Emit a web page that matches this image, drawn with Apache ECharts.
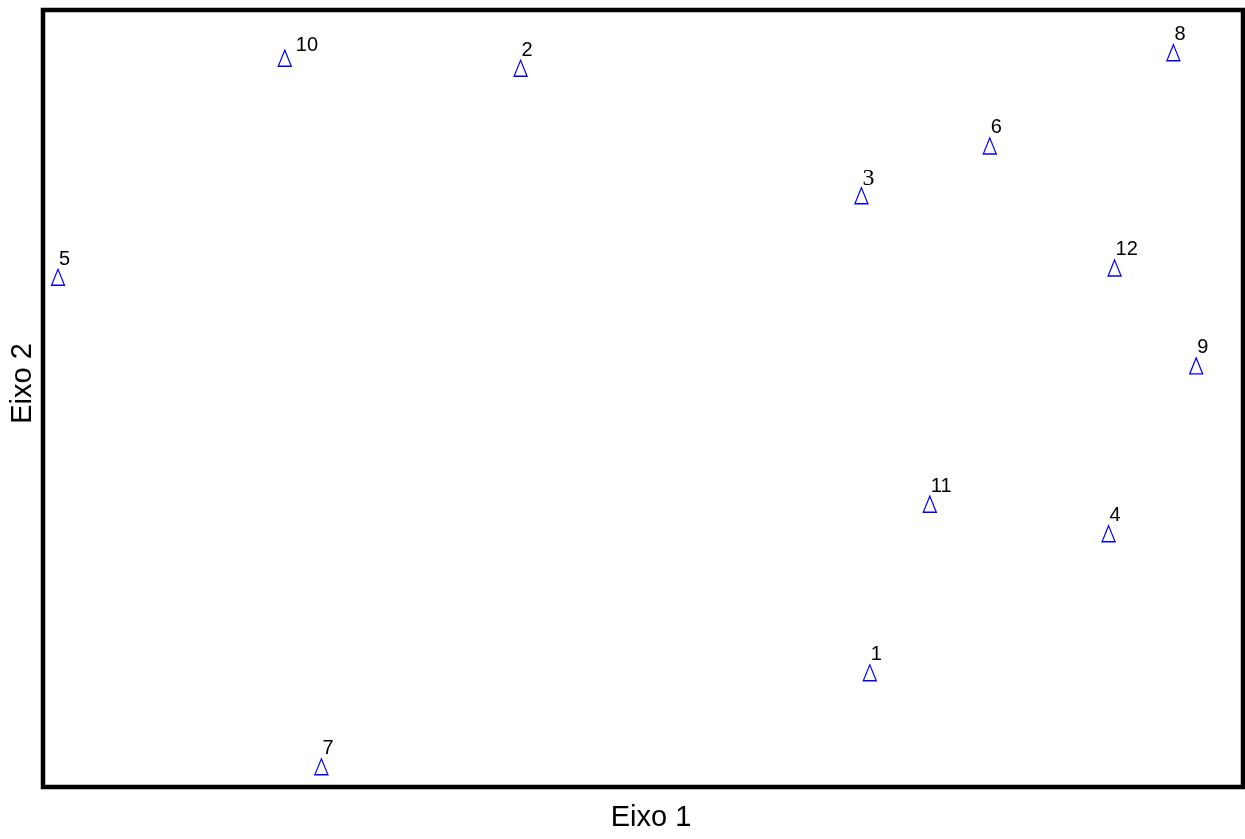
<!DOCTYPE html>
<html>
<head>
<meta charset="utf-8">
<script src="https://cdn.jsdelivr.net/npm/echarts@6/dist/echarts.min.js"></script>
<style>
html,body{margin:0;padding:0;background:#fff;}
#chart{width:1245px;height:839px;}
</style>
</head>
<body>
<div id="chart"></div>
<script>
// Data (arbitrary 0-100 ordination units)
var pointNames = ['1','2','3','4','5','6','7','8','9','10','11','12'];
var eixo1 = [68.9, 39.8, 68.2, 88.8, 1.25, 78.9, 23.2, 94.2, 96.1, 20.15, 73.9, 89.3];
var eixo2 = [14.7, 92.5, 76.1, 32.6, 65.6, 82.5, 2.6, 94.5, 54.2, 93.8, 36.4, 66.8];

// Label style exceptions (layout only)
var labelOffsetSpecial = { '10': [11, -13], '3': [1, -17] };
var serifLabels = { '3': true };

var seriesData = pointNames.map(function (n, i) {
  var item = { name: n, value: [eixo1[i], eixo2[i]] };
  if (labelOffsetSpecial[n]) item.label = { offset: labelOffsetSpecial[n] };
  return item;
});

var chart = echarts.init(document.getElementById('chart'), null, { renderer: 'canvas' });
chart.setOption({
  animation: false,
  backgroundColor: '#ffffff',
  grid: {
    left: 42, right: 2, top: 10, bottom: 52,
    show: true, borderColor: '#000000', borderWidth: 4.5, backgroundColor: 'transparent'
  },
  xAxis: {
    type: 'value', min: 0, max: 100,
    name: 'Eixo 1', nameLocation: 'middle', nameGap: 16,
    nameTextStyle: { fontFamily: 'Liberation Sans', fontSize: 29, color: '#000', padding: [0, 0, 0, 16] },
    axisLine: { show: false }, axisTick: { show: false }, axisLabel: { show: false }, splitLine: { show: false }
  },
  yAxis: {
    type: 'value', min: 0, max: 100,
    name: 'Eixo 2', nameLocation: 'middle', nameGap: 6,
    nameTextStyle: { fontFamily: 'Liberation Sans', fontSize: 29, color: '#000', padding: [0, 0, 0, 30] },
    axisLine: { show: false }, axisTick: { show: false }, axisLabel: { show: false }, splitLine: { show: false }
  },
  series: [{
    type: 'scatter',
    symbol: 'triangle',
    symbolSize: [13, 16],
    itemStyle: { color: 'rgba(0,0,0,0)', borderColor: '#0000ff', borderWidth: 1.3, opacity: 1 },
    label: {
      show: true, position: 'inside', align: 'left', offset: [1, -18],
      formatter: function (p) { return serifLabels[p.name] ? '{s|' + p.name + '}' : '{n|' + p.name + '}'; },
      color: '#000', fontFamily: 'Liberation Sans', fontSize: 20,
      rich: {
        n: { fontFamily: 'Liberation Sans', fontSize: 20, color: '#000' },
        s: { fontFamily: "'Liberation Serif', 'DejaVu Serif', serif", fontSize: 24, color: '#000' }
      }
    },
    emphasis: { disabled: true },
    data: seriesData
  }]
});
</script>
</body>
</html>
